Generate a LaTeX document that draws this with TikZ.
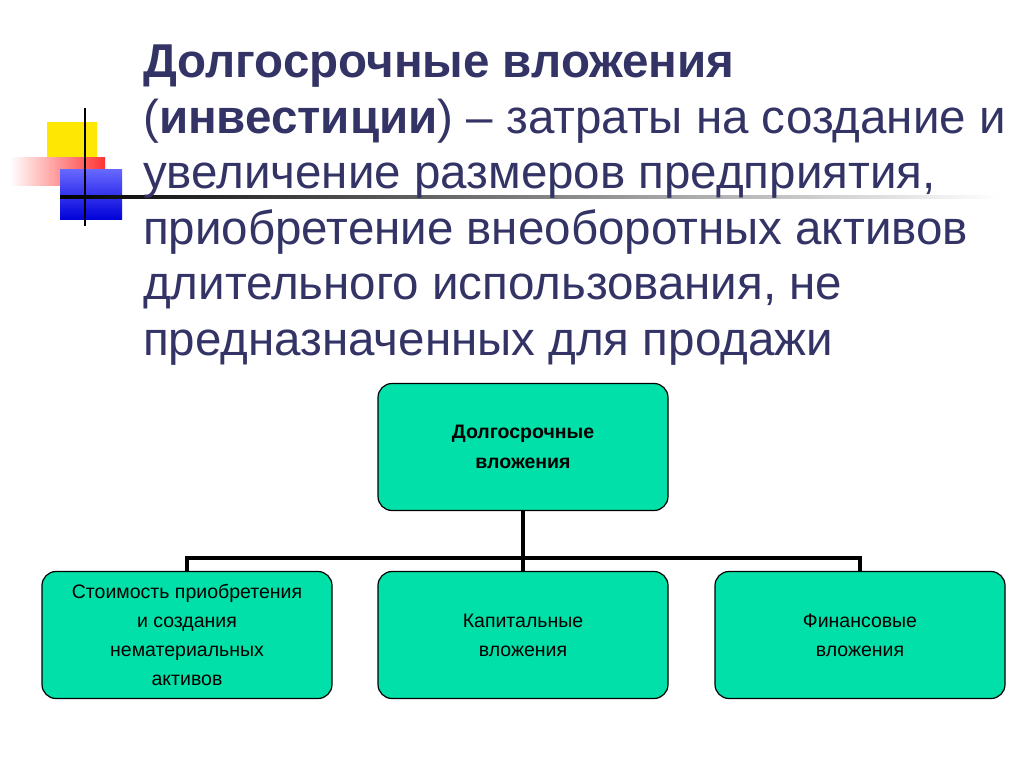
\documentclass[tikz,border=0pt]{standalone}
\usepackage{fontspec}
\setmainfont{Liberation Sans}
\begin{document}
\begin{tikzpicture}[x=1pt,y=-1pt,
  box/.style={draw=black,line width=1.2pt,fill=boxgreen,rounded corners=14pt,minimum width=290pt,minimum height=127pt,align=center,font=\fontsize{19.5}{29}\selectfont},
  conn/.style={line width=3.5pt,black}]
\definecolor{boxgreen}{HTML}{00E0A8}
\definecolor{titlec}{HTML}{333366}
\useasboundingbox (0,0) rectangle (1024,767);
\fill[white] (0,0) rectangle (1024,767);
% decoration
\fill[yellow!90!orange] (47,122) rectangle (97,170);
\shade[left color=white,right color=red!80] (10,158) rectangle (105,186);
\shade[top color=blue!60,bottom color=blue!85!black] (60,170) rectangle (122,220);
\shade[left color=black,right color=white] (60,196) rectangle (1000,199);
\draw[line width=1.5pt] (85,108) -- (85,226);
% title
\node[anchor=base west,align=left,text=titlec,inner sep=0pt,font=\fontsize{47.5}{55.5}\selectfont] (title) at (143,355)
{\textbf{Долгосрочные вложения}\\(\textbf{инвестиции}) – затраты на создание и\\увеличение размеров предприятия,\\приобретение внеоборотных активов\\длительного использования, не\\предназначенных для продажи};
% boxes
\node[box,font=\fontsize{19.5}{30}\selectfont\bfseries] (top) at (523,447) {Долгосрочные\\вложения};
\node[box] (b1) at (187,635) {Стоимость приобретения\\и создания\\нематериальных\\активов};
\node[box] (b2) at (523,635) {Капитальные\\вложения};
\node[box] (b3) at (860,635) {Финансовые\\вложения};
\coordinate (j) at (523,558);
\draw[conn] (top.south) -- (j);
\draw[conn] (b1.north) -- (b1.north |- j) -- (b3.north |- j) -- (b3.north);
\draw[conn] (j) -- (b2.north);
\end{tikzpicture}
\end{document}
